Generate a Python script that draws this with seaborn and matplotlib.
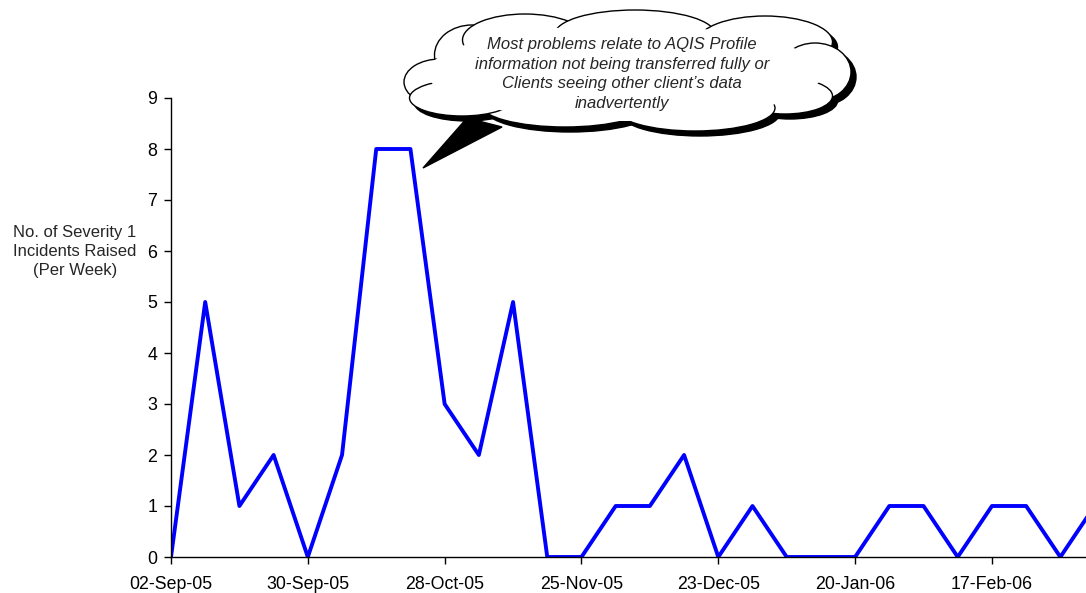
import numpy as np
import pandas as pd
import matplotlib
matplotlib.use("Agg")
import matplotlib.pyplot as plt
from matplotlib.patches import Ellipse, Polygon
import seaborn as sns

# weekly counts, starting 02-Sep-05
start_date = "2005-09-02"
incidents = [0, 5, 1, 2, 0, 2, 8, 8, 3, 2, 5, 0, 0, 1, 1, 2, 0, 1, 0, 0, 0, 1, 1, 0, 1, 1, 0, 1]
tick_labels = ["02-Sep-05", "30-Sep-05", "28-Oct-05", "25-Nov-05", "23-Dec-05",
               "20-Jan-06", "17-Feb-06"]
y_ticks = list(range(0, 10))
y_label = "No. of Severity 1\nIncidents Raised\n(Per Week)"
callout = ("Most problems relate to AQIS Profile\ninformation not being transferred fully or\n"
           "Clients seeing other client\u2019s data\ninadvertently")

weeks = pd.date_range(start_date, periods=len(incidents), freq="7D")
df = pd.DataFrame({"week": weeks, "incidents": incidents})

sns.set_style("ticks")
plt.rcParams["font.family"] = ["Liberation Sans", "DejaVu Sans"]

fig = plt.figure(figsize=(10.86, 5.93), dpi=100)
ax = fig.add_axes([171 / 1086, 36 / 593, 1 - 171 / 1086, 459 / 593])

sns.lineplot(data=df, x="week", y="incidents", color="#0000FF", lw=2.8, ax=ax)

tick_dates = pd.to_datetime(tick_labels, format="%d-%b-%y")
ax.set_xticks(tick_dates)
ax.set_xticklabels(tick_labels, fontsize=12.8)
ax.set_xlim(pd.Timestamp(start_date), pd.Timestamp(start_date) + pd.Timedelta(days=7 * 26.75))
ax.set_ylim(0, 9)
ax.set_yticks(y_ticks)
ax.set_yticklabels([str(v) for v in y_ticks], fontsize=12.8)
ax.set_xlabel("")
ax.set_ylabel(y_label, rotation=0, fontsize=12, va="center", ha="center", linespacing=1.35)
ax.yaxis.set_label_coords(-0.105, 0.665)
ax.tick_params(direction="out", length=5, width=1, colors="black", pad=5)
ax.tick_params(axis="x", pad=9)
sns.despine(ax=ax)
for s in ["left", "bottom"]:
    ax.spines[s].set_color("black")
    ax.spines[s].set_linewidth(1)

# callout cloud drawn on an overlay in pixel space
ov = fig.add_axes([0, 0, 1, 1], zorder=5)
ov.set_xlim(0, 1086)
ov.set_ylim(593, 0)
ov.axis("off")
ov.patch.set_alpha(0)

bumps = [(472, 55, 75, 60), (440, 82, 72, 46), (525, 40, 125, 52), (635, 34, 160, 48),
         (765, 42, 135, 52), (815, 72, 72, 58), (785, 96, 95, 36), (695, 108, 160, 46),
         (565, 104, 170, 46), (462, 98, 105, 36)]
sh = 5
for cx, cy, w, h in bumps:
    ov.add_patch(Ellipse((cx + sh, cy + sh), w, h, fc="black", ec="black"))
ov.add_patch(Polygon([(467, 118), (502, 127), (423, 168)], closed=True, fc="black", ec="black"))
for cx, cy, w, h in bumps:
    ov.add_patch(Ellipse((cx, cy), w, h, fc="white", ec="black", lw=1))
ov.add_patch(Ellipse((625, 73), 395, 96, fc="white", ec="none"))
ov.text(622, 74, callout, ha="center", va="center", style="italic", fontsize=12,
        linespacing=1.4)

fig.savefig("out.png", dpi=100)
